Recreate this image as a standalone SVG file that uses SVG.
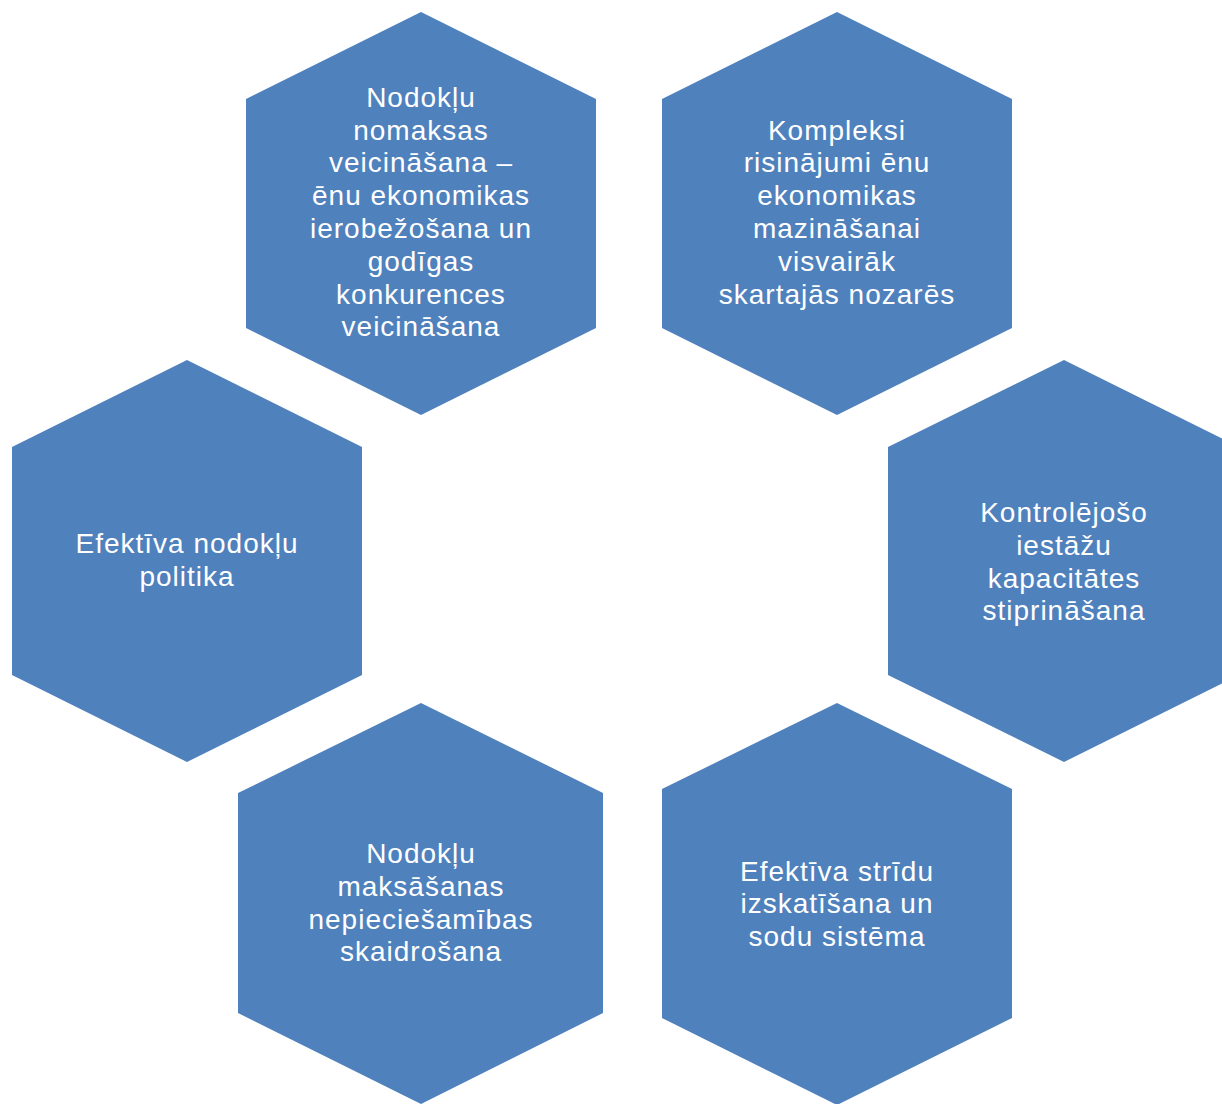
<svg xmlns="http://www.w3.org/2000/svg" width="1222" height="1104" viewBox="0 0 1222 1104">
<style>
.hex{fill:#4F81BD;}
.t{fill:#FFFFFF;font-family:"Liberation Sans",Arial,sans-serif;font-size:28px;letter-spacing:1px;text-anchor:middle;}
</style>
<rect width="1222" height="1104" fill="#FFFFFF"/>
<g id="connectors"></g>
<g id="node1">
<polygon class="hex" points="421,12 596,99 596,328 421,415 246,328 246,99"/>
<text class="t"><tspan x="421" y="107">Nodokļu</tspan><tspan x="421" y="140">nomaksas</tspan><tspan x="421" y="172">veicināšana –</tspan><tspan x="421" y="205">ēnu ekonomikas</tspan><tspan x="421" y="238">ierobežošana un</tspan><tspan x="421" y="271">godīgas</tspan><tspan x="421" y="304">konkurences</tspan><tspan x="421" y="336">veicināšana</tspan></text>
</g>
<g id="node2">
<polygon class="hex" points="837,12 1012,99 1012,328 837,415 662,328 662,99"/>
<text class="t"><tspan x="837" y="140">Kompleksi</tspan><tspan x="837" y="172">risinājumi ēnu</tspan><tspan x="837" y="205">ekonomikas</tspan><tspan x="837" y="238">mazināšanai</tspan><tspan x="837" y="271">visvairāk</tspan><tspan x="837" y="304">skartajās nozarēs</tspan></text>
</g>
<g id="node3">
<polygon class="hex" points="1064,360 1239,447 1239,675 1064,762 888,675 888,447"/>
<text class="t"><tspan x="1064" y="522">Kontrolējošo</tspan><tspan x="1064" y="555">iestāžu</tspan><tspan x="1064" y="588">kapacitātes</tspan><tspan x="1064" y="620">stiprināšana</tspan></text>
</g>
<g id="node4">
<polygon class="hex" points="837,703 1012,789 1012,1018 837,1105 662,1018 662,789"/>
<text class="t"><tspan x="837" y="881">Efektīva strīdu</tspan><tspan x="837" y="913">izskatīšana un</tspan><tspan x="837" y="946">sodu sistēma</tspan></text>
</g>
<g id="node5">
<polygon class="hex" points="421,703 603,793 603,1013 421,1104 238,1013 238,793"/>
<text class="t"><tspan x="421" y="863">Nodokļu</tspan><tspan x="421" y="896">maksāšanas</tspan><tspan x="421" y="929">nepieciešamības</tspan><tspan x="421" y="961">skaidrošana</tspan></text>
</g>
<g id="node6">
<polygon class="hex" points="187,360 362,447 362,675 187,762 12,675 12,447"/>
<text class="t"><tspan x="187" y="553">Efektīva nodokļu</tspan><tspan x="187" y="586">politika</tspan></text>
</g>
</svg>
